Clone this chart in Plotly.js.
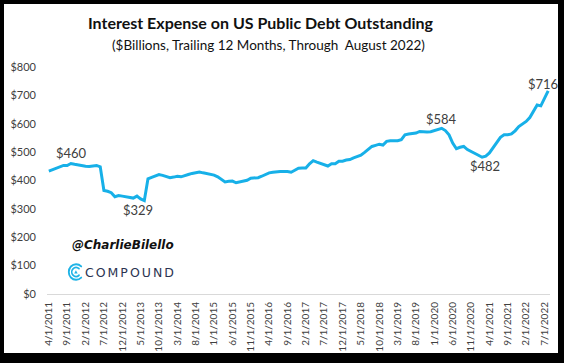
<!DOCTYPE html>
<html>
<head>
<meta charset="utf-8">
<script src="https://cdn.plot.ly/plotly-3.0.1.min.js"></script>
<style>
  html, body { margin: 0; padding: 0; background: #000; width: 564px; height: 363px; overflow: hidden; }
  #chart { position: absolute; left: 4px; top: 4px; width: 554px; height: 349px; background: #fff; }
</style>
</head>
<body>
<div id="chart"></div>
<script>
// Trailing-12-month interest expense, $ billions, monthly from 4/1/2011 to 8/1/2022
const startYear = 2011, startMonth = 4, monthCount = 137;
const interestExpense = [
  433, 438, 444, 450, 453, 453, 460, 457, 454, 451,
  450, 449, 451, 453, 448, 365, 362, 357, 343, 347,
  345, 343, 339, 338, 345, 335, 329, 406, 411, 416,
  421, 418, 414, 410, 412, 415, 413, 418, 421, 425,
  427, 430, 427, 425, 423, 419, 413, 404, 395, 397,
  398, 392, 395, 398, 401, 408, 409, 410, 415, 422,
  427, 429, 431, 432, 432, 432, 429, 436, 443, 444,
  444, 459, 470, 465, 460, 456, 451, 459, 459, 468,
  468, 472, 474, 480, 485, 489, 499, 511, 520, 524,
  528, 525, 538, 540, 540, 540, 544, 561, 564, 565,
  567, 573, 571, 571, 572, 576, 580, 584, 576, 561,
  532, 512, 517, 520, 509, 503, 497, 489, 482, 486,
  497, 515, 534, 552, 561, 561, 564, 575, 590, 600,
  608, 622, 643, 666, 663, 690, 716
];
const tickLabels = [
  "4/1/2011","9/1/2011","2/1/2012","7/1/2012","12/1/2012","5/1/2013","10/1/2013",
  "3/1/2014","8/1/2014","1/1/2015","6/1/2015","11/1/2015","4/1/2016","9/1/2016",
  "2/1/2017","7/1/2017","12/1/2017","5/1/2018","10/1/2018","3/1/2019","8/1/2019",
  "1/1/2020","6/1/2020","11/1/2020","4/1/2021","9/1/2021","2/1/2022","7/1/2022"
];
const yTickVals = [0,100,200,300,400,500,600,700,800];
const yTickText = ["$0","$100","$200","$300","$400","$500","$600","$700","$800"];
// labelled points: [category, value, text]
const callouts = [
  ["10/1/2011", 460, "$460"],
  ["6/1/2013", 329, "$329"],
  ["3/1/2020", 584, "$584"],
  ["2/1/2021", 482, "$482"],
  ["8/1/2022", 716, "$716"]
];

const months = [];
for (let k = 0; k < monthCount; k++) {
  const m = (startMonth - 1 + k) % 12 + 1;
  const y = startYear + Math.floor((startMonth - 1 + k) / 12);
  months.push(m + "/1/" + y);
}

const FONT = "Lato, 'Open Sans', sans-serif";
const TXT = "#404040";

const shifts = {
  "$460": [1, 10], "$329": [-6, -9], "$584": [0, 9], "$482": [3, -9], "$716": [-5, 7]
};

const annotations = callouts.map(c => ({
  x: c[0], y: c[1], xref: "x", yref: "y", text: c[2], showarrow: false,
  xshift: shifts[c[2]][0], yshift: shifts[c[2]][1],
  font: { family: FONT, size: 13, color: TXT }
}));

annotations.push({
  xref: "paper", yref: "paper", x: 0.44, y: 1, yshift: 22, yanchor: "middle",
  text: "($Billions, Trailing 12 Months, Through  August 2022)",
  showarrow: false, font: { family: FONT, size: 13.5, color: "#111" }
});
annotations.push({
  xref: "paper", yref: "paper", x: 0.045, y: 0.215, xanchor: "left", yanchor: "middle",
  text: "<b><i>@CharlieBilello</i></b>", showarrow: false,
  font: { family: "'DejaVu Sans', sans-serif", size: 12, color: "#111" }
});
annotations.push({
  xref: "paper", yref: "paper", x: 0.088, y: 0.095, xanchor: "left", yanchor: "middle",
  text: "COMPOUND", showarrow: false,
  font: { family: "'DejaVu Sans', sans-serif", size: 12.5, color: "#2b3452" }
});

const logoSvg = '<svg xmlns="http://www.w3.org/2000/svg" viewBox="0 0 20 20">' +
  '<path d="M16.2 3.8 A8.6 8.6 0 1 0 16.2 16.2" fill="none" stroke="#1fb3e6" stroke-width="2.2" stroke-linecap="round"/>' +
  '<path d="M13.6 6.4 A5 5 0 1 0 13.6 13.6" fill="none" stroke="#1fb3e6" stroke-width="2" stroke-linecap="round"/>' +
  '<path d="M10 8.2 L12 11.8 L8 11.8 Z" fill="#1fb3e6"/></svg>';

const layout = {
  width: 554, height: 349,
  margin: { l: 42.5, r: 7.5, t: 63, b: 59 },
  paper_bgcolor: "#fff", plot_bgcolor: "#fff",
  showlegend: false,
  title: {
    text: "<b>Interest Expense on US Public Debt Outstanding</b>",
    x: 0.463, xanchor: "center", xref: "container",
    y: 0.945, yanchor: "middle", yref: "container",
    font: { family: FONT, size: 16, color: "#111" }
  },
  xaxis: {
    type: "category", categoryorder: "array", categoryarray: months,
    range: [-0.5, monthCount - 0.5],
    tickmode: "array", tickvals: tickLabels, ticktext: tickLabels,
    tickangle: -90, showgrid: false, zeroline: false,
    showline: true, linecolor: "#d9d9d9", linewidth: 1,
    ticks: "", ticklabelstandoff: 3,
    tickfont: { family: FONT, size: 10, color: TXT },
    fixedrange: true
  },
  yaxis: {
    range: [0, 800], tickmode: "array", tickvals: yTickVals, ticktext: yTickText,
    showgrid: false, zeroline: false, showline: false, ticks: "",
    ticklabelstandoff: 10,
    tickfont: { family: FONT, size: 11, color: TXT }, fixedrange: true
  },
  annotations: annotations,
  images: [{
    source: "data:image/svg+xml;utf8," + encodeURIComponent(logoSvg),
    xref: "paper", yref: "paper", x: 0.0405, y: 0.137,
    sizex: 0.034, sizey: 0.08, sizing: "stretch", xanchor: "left", yanchor: "top", layer: "above"
  }]
};

Plotly.newPlot("chart", [{
  type: "scatter", mode: "lines", x: months, y: interestExpense,
  line: { color: "#17b0e8", width: 3, shape: "linear" },
  hoverinfo: "skip"
}], layout, { staticPlot: true, displayModeBar: false }).then(() => {
  document.querySelectorAll(".annotation-text").forEach(el => {
    if (el.textContent === "COMPOUND") el.style.letterSpacing = "2px";
  });
});
</script>
</body>
</html>
